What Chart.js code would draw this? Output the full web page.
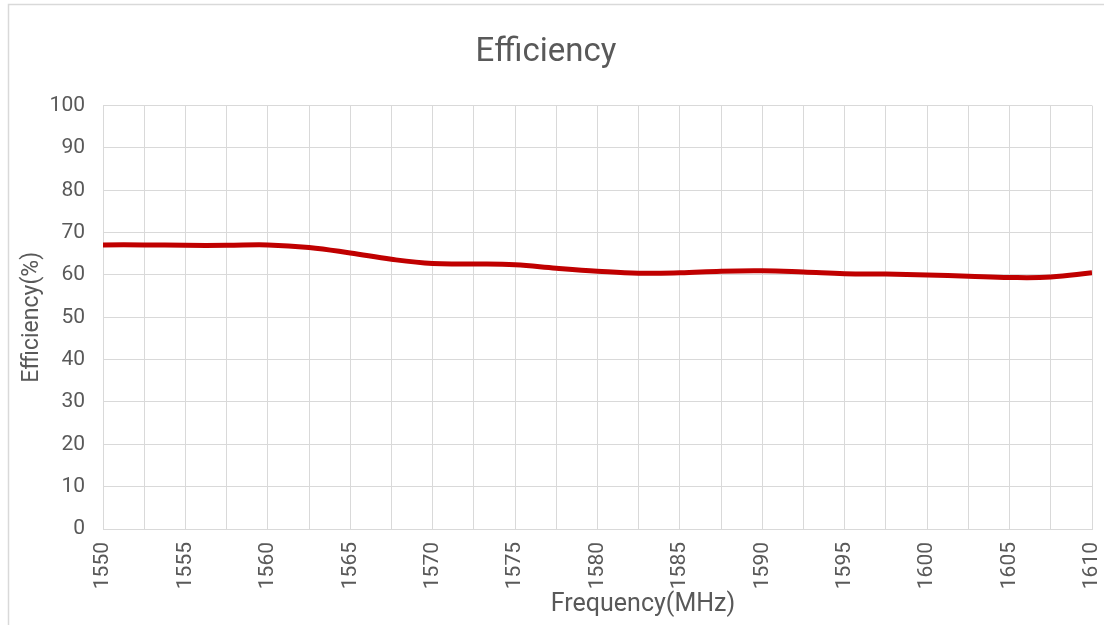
<!DOCTYPE html>
<html>
<head>
<meta charset="utf-8">
<script src="https://cdn.jsdelivr.net/npm/chart.js@4.4.1/dist/chart.umd.min.js"></script>
<style>
  html, body { margin: 0; padding: 0; background: #fff; }
  #wrap { width: 1104px; height: 625px; }
</style>
</head>
<body>
<div id="wrap"><canvas id="myChart" width="1104" height="625"></canvas></div>
<script>
// values, every 2.5 MHz
const freqs = [1550, 1552.5, 1555, 1557.5, 1560, 1562.5, 1565, 1567.5, 1570, 1572.5, 1575, 1577.5, 1580,
               1582.5, 1585, 1587.5, 1590, 1592.5, 1595, 1597.5, 1600, 1602.5, 1605, 1607.5, 1610];
const efficiency = [67.1, 67.1, 67.0, 67.0, 67.1, 66.5, 65.2, 63.7, 62.7, 62.6, 62.4, 61.6, 60.9,
                    60.4, 60.5, 60.9, 61.0, 60.7, 60.3, 60.2, 60.0, 59.7, 59.4, 59.5, 60.5];
const yTicks = [0, 10, 20, 30, 40, 50, 60, 70, 80, 90, 100];

const textColor = '#595959';
const gridColor = '#d9d9d9';
const fontFamily = 'Roboto, "Noto Sans", sans-serif';

const points = freqs.map((f, i) => ({x: f, y: efficiency[i]}));

// outer frame + x axis title (offset like the excel original)
const extras = {
  id: 'extras',
  beforeDraw(chart) {
    const ctx = chart.ctx;
    ctx.save();
    ctx.strokeStyle = gridColor;
    ctx.lineWidth = 1.5;
    ctx.strokeRect(8.5, 4.5, 1100, 700);
    ctx.restore();
  },
  afterDraw(chart) {
    const ctx = chart.ctx;
    ctx.save();
    ctx.fillStyle = textColor;
    ctx.font = '25px ' + fontFamily;
    ctx.textAlign = 'center';
    ctx.textBaseline = 'middle';
    ctx.fillText('Frequency(MHz)', 643, 605);
    ctx.restore();
  }
};

const config = {
  type: 'line',
  data: {
    datasets: [{
      label: 'Efficiency',
      data: points,
      borderColor: '#c00000',
      borderWidth: 5,
      pointRadius: 0,
      fill: false,
      tension: 0.4
    }]
  },
  options: {
    responsive: false,
    animation: false,
    layout: { padding: { left: 0, right: 12, top: 0, bottom: 0 } },
    plugins: {
      legend: { display: false },
      tooltip: { enabled: false },
      title: {
        display: true,
        text: 'Efficiency',
        color: textColor,
        font: { family: fontFamily, size: 33, weight: 'normal' },
        padding: { top: 33, bottom: 33 }
      }
    },
    scales: {
      x: {
        type: 'linear',
        min: 1550,
        max: 1610,
        afterFit(scale) {
          scale.height = 96;
          scale.paddingLeft = 0;
          scale.paddingRight = 0;
        },
        grid: { color: gridColor, drawTicks: false },
        border: { color: gridColor },
        ticks: {
          stepSize: 2.5,
          autoSkip: false,
          minRotation: 90,
          maxRotation: 90,
          padding: 13,
          color: textColor,
          font: { family: fontFamily, size: 21 },
          callback: v => (v % 5 === 0 ? String(v) : '')
        }
      },
      y: {
        min: 0,
        max: 100,
        afterFit(scale) { scale.width = 103; },
        afterBuildTicks(scale) { scale.ticks = yTicks.map(v => ({value: v})); },
        grid: { color: gridColor, drawTicks: false },
        border: { color: gridColor },
        ticks: {
          padding: 18,
          color: textColor,
          font: { family: fontFamily, size: 21 }
        },
        title: {
          display: true,
          text: 'Efficiency(%)',
          color: textColor,
          font: { family: fontFamily, size: 23 },
          padding: { top: 18, bottom: 0 }
        }
      }
    }
  },
  plugins: [extras]
};

let ctx = document.getElementById('myChart').getContext('2d');
var myChart = new Chart(ctx, config);
</script>
</body>
</html>
